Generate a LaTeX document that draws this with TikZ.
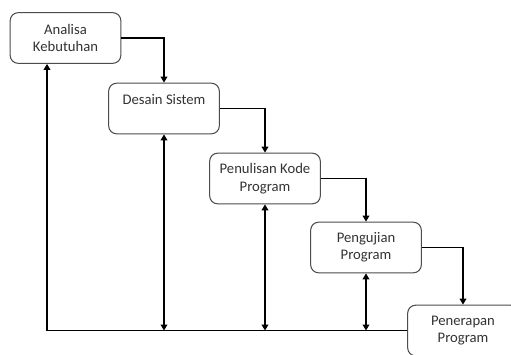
\documentclass[tikz,border=0pt]{standalone}
\usepackage{fontspec}
\setmainfont{Carlito}
\usetikzlibrary{arrows.meta}
\begin{document}
\begin{tikzpicture}[x=0.75pt, y=-0.75pt, font=\fontsize{11}{13}\selectfont]
    % Set up styles for the stages and the connectors
    \tikzstyle{stage} = [draw=black!70, line width=0.8pt, rounded corners=6pt, fill=white,
        minimum width=83pt, minimum height=38pt, align=center, text=black!80]
    \tikzstyle{arrow} = [-{Triangle[length=4.5pt,width=5pt]}, line width=1.3pt]
    \tikzstyle{both} = [{Triangle[length=4.5pt,width=5pt]}-{Triangle[length=4.5pt,width=5pt]}, line width=1.3pt]

    % Page frame, the last stage runs off the right edge
    \clip (0,0) rectangle (511,354);
    \fill[white] (0,0) rectangle (511,354);

    % Draw the stages
    \node[stage] (analisa) at (65.5,38) {Analisa\\Kebutuhan};
    \node[stage] (desain) at (164,108.5) {Desain Sistem\\~};
    \node[stage] (kode) at (265,178.5) {Penulisan Kode\\Program};
    \node[stage] (uji) at (366,247.5) {Pengujian\\Program};
    \node[stage] (terap) at (463,330.5) {Penerapan\\Program};

    % Forward flow, stage to stage
    \draw[arrow] (analisa.east) -| (desain.north);
    \draw[arrow] (desain.east) -| (kode.north);
    \draw[arrow] (kode.east) -| (uji.north);
    \draw[arrow] (uji.east) -| (terap.north);

    % Feedback line along the bottom
    \coordinate (back) at (47,332);
    \draw[arrow] (terap.west) -| (back |- analisa.south);
    \draw[both] (desain.south) -- (desain.south |- terap.west);
    \draw[both] (kode.south) -- (kode.south |- terap.west);
    \draw[both] (uji.south) -- (uji.south |- terap.west);

\end{tikzpicture}
\end{document}
